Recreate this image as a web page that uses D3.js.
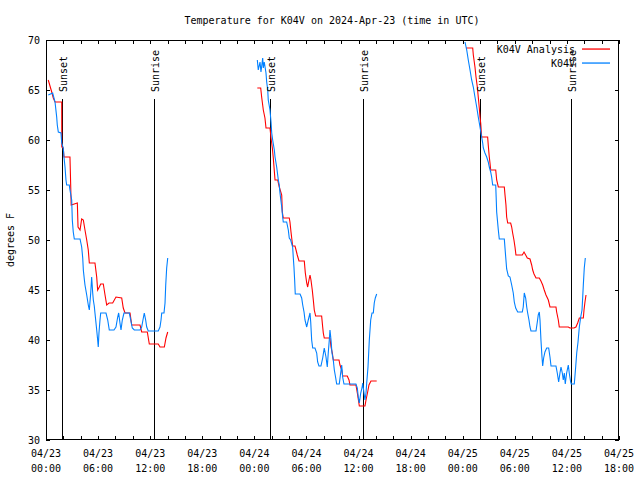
<!DOCTYPE html>
<html><head><meta charset="utf-8">
<script src="https://cdn.jsdelivr.net/npm/d3@7"></script>
<style>
body{margin:0;background:#fff;}
text{font-family:"DejaVu Sans Mono",monospace;font-size:10px;fill:#000;}
</style></head><body>
<svg id="c" width="640" height="480"></svg>
<script>
const titleText = "Temperature for K04V on 2024-Apr-23 (time in UTC)";
const yLabelText = "degrees F";
const seriesNames = ["K04V Analysis", "K04V"];
const seriesColors = ["#ff0000", "#0080ff"];
const yTicks = [30, 35, 40, 45, 50, 55, 60, 65, 70];
const sunsetHours = [1.81, 25.83, 49.95];
const sunriseHours = [12.47, 36.55, 60.50];

// [hours since 2024-04-23 00:00 UTC, temperature F]
const analysisDay1 = [[0.26,66.0],[0.66,64.8],[0.84,64.2],[1.04,63.8],[1.81,63.8],[1.82,59.3],[1.99,59.2],[2.07,58.3],[2.76,58.3],[2.80,57.0],[2.90,53.5],[3.61,53.7],[3.69,51.3],[3.92,51.0],[4.11,52.1],[4.30,52.0],[4.49,51.0],[4.69,50.0],[4.87,49.0],[4.99,47.7],[5.64,47.7],[5.84,46.3],[5.95,45.0],[6.14,45.3],[6.30,45.6],[6.60,45.6],[6.80,44.5],[6.99,43.5],[7.26,43.7],[7.68,43.7],[8.06,44.3],[8.72,44.2],[8.90,43.2],[9.10,42.7],[9.68,42.7],[9.87,41.5],[10.83,41.5],[11.02,40.8],[11.67,40.8],[11.90,39.6],[12.93,39.6],[13.13,39.3],[13.63,39.3],[13.82,40.2],[14.02,40.8]];
const observedDay1 = [[0.26,64.5],[0.77,64.7],[1.04,63.8],[1.23,62.3],[1.30,61.5],[1.42,60.8],[1.73,60.7],[1.81,59.7],[1.99,59.2],[2.07,58.3],[2.19,57.3],[2.30,56.0],[2.38,55.5],[2.68,55.5],[2.76,55.0],[2.96,54.0],[3.03,52.0],[3.14,50.8],[3.26,50.1],[3.92,50.1],[4.11,49.3],[4.23,48.2],[4.30,47.0],[4.41,46.1],[4.49,45.5],[4.69,44.5],[4.87,43.5],[4.99,43.0],[5.15,44.7],[5.26,46.3],[5.38,44.7],[5.45,44.0],[5.56,43.4],[5.64,42.7],[5.84,41.0],[5.95,40.0],[6.02,39.3],[6.10,40.7],[6.22,42.0],[6.30,42.7],[6.91,42.7],[7.11,42.0],[7.29,41.0],[7.83,41.0],[8.06,41.3],[8.26,42.3],[8.37,42.7],[8.52,41.7],[8.64,41.0],[8.79,42.0],[8.98,42.7],[9.59,42.7],[9.76,42.0],[9.94,41.2],[10.17,41.0],[10.83,41.0],[11.02,41.3],[11.21,42.2],[11.32,42.7],[11.48,42.0],[11.60,41.3],[11.78,40.9],[12.93,40.9],[13.13,41.3],[13.25,42.0],[13.33,42.7],[13.59,42.7],[13.71,43.7],[13.79,45.5],[13.90,47.2],[14.02,48.2]];
const analysisDay2 = [[24.34,65.2],[24.73,65.2],[24.84,64.3],[25.03,63.0],[25.22,62.2],[25.34,61.2],[25.80,61.2],[25.92,60.2],[26.07,59.2],[26.18,58.2],[26.38,56.0],[26.69,56.0],[26.76,55.7],[26.87,55.3],[27.15,54.5],[27.22,52.8],[27.33,52.2],[28.02,52.2],[28.10,51.8],[28.22,50.8],[28.30,50.2],[28.41,49.4],[28.68,49.4],[28.80,49.0],[28.94,48.5],[29.14,47.9],[29.75,47.9],[29.87,46.7],[30.03,45.7],[30.14,45.3],[30.29,46.0],[30.41,46.5],[30.52,46.0],[30.67,45.0],[30.79,44.0],[30.90,43.0],[31.06,42.4],[31.75,42.4],[31.87,41.3],[31.94,40.7],[32.05,40.2],[32.71,40.2],[32.83,39.3],[32.98,38.7],[33.09,38.0],[33.75,38.0],[33.86,37.5],[34.06,37.0],[34.17,36.4],[34.70,36.4],[34.90,36.0],[35.01,35.5],[35.70,35.5],[35.86,34.7],[36.02,33.8],[36.09,33.4],[36.74,33.4],[36.86,34.0],[37.05,34.8],[37.20,35.5],[37.43,35.9],[38.09,35.9]];
const observedDay2 = [[24.34,68.0],[24.45,67.0],[24.65,67.8],[24.76,66.8],[24.96,68.2],[25.03,67.2],[25.14,67.8],[25.34,66.7],[25.42,65.8],[25.54,65.0],[25.60,64.0],[25.80,63.0],[25.92,61.8],[26.00,60.7],[26.11,60.0],[26.30,59.0],[26.38,58.3],[26.57,57.3],[26.76,56.0],[26.87,55.5],[26.95,54.7],[27.15,53.3],[27.26,52.3],[27.33,51.8],[27.72,51.8],[27.91,51.0],[28.02,50.2],[28.18,50.0],[28.41,49.3],[28.48,48.3],[28.56,47.3],[28.64,46.0],[28.71,44.6],[29.26,44.6],[29.45,44.2],[29.57,43.5],[29.72,42.8],[29.83,42.0],[30.03,41.3],[30.21,42.0],[30.41,42.7],[30.49,41.8],[30.60,40.0],[30.72,39.2],[30.98,39.2],[31.18,38.7],[31.29,37.8],[31.44,37.4],[31.67,37.4],[31.87,38.2],[32.05,39.2],[32.25,38.3],[32.40,37.3],[32.51,38.7],[32.63,40.0],[32.71,41.0],[32.83,40.0],[32.94,38.7],[33.09,38.0],[33.21,37.0],[33.37,36.2],[33.48,35.6],[33.78,35.6],[33.94,36.7],[34.06,37.5],[34.17,36.3],[34.32,35.6],[35.70,35.6],[35.86,35.2],[35.97,34.3],[36.09,33.7],[36.25,34.7],[36.40,35.2],[36.48,35.7],[36.63,34.7],[36.74,34.0],[36.86,34.7],[36.94,35.7],[37.09,37.3],[37.24,40.0],[37.40,42.0],[37.55,42.7],[37.70,42.7],[37.81,43.7],[37.93,44.2],[38.09,44.6]];
const analysisDay3 = [[48.37,69.2],[49.15,69.2],[49.22,68.5],[49.41,67.3],[49.53,66.3],[49.68,65.3],[49.79,64.3],[49.91,63.2],[49.99,62.3],[50.07,61.7],[50.18,60.3],[50.87,60.3],[50.94,59.5],[51.06,58.3],[51.14,57.7],[51.22,57.0],[51.80,57.0],[51.91,56.0],[52.10,55.3],[52.79,55.3],[52.87,54.5],[52.98,53.5],[53.06,52.3],[53.18,51.7],[53.52,51.7],[53.64,51.3],[53.75,50.7],[53.90,50.0],[54.02,49.3],[54.13,48.5],[54.86,48.5],[55.06,48.8],[55.25,48.5],[55.44,48.2],[55.75,48.1],[55.94,47.5],[56.06,47.0],[56.21,46.6],[56.44,46.2],[56.82,46.2],[57.01,45.9],[57.21,45.5],[57.39,45.0],[57.59,44.5],[57.86,44.0],[58.05,43.3],[58.74,43.3],[58.82,42.8],[59.01,42.0],[59.12,41.3],[60.16,41.3],[60.35,41.2],[60.81,41.2],[61.04,41.3],[61.24,41.7],[61.43,42.2],[61.89,42.2],[61.97,43.0],[62.08,43.8],[62.20,44.5]];
const observedDay3 = [[48.26,69.8],[48.46,69.0],[48.64,68.0],[48.84,67.0],[49.03,66.0],[49.22,65.3],[49.41,64.3],[49.61,63.3],[49.79,62.3],[49.99,61.3],[50.18,60.3],[50.30,59.7],[50.37,59.2],[50.56,58.7],[50.76,58.3],[50.94,57.8],[51.06,57.3],[51.22,56.8],[51.33,56.3],[51.45,55.5],[51.80,55.5],[51.85,54.3],[51.91,52.8],[52.10,51.0],[52.21,50.1],[52.79,50.1],[52.95,48.3],[53.06,47.1],[53.25,46.4],[53.44,46.3],[53.64,45.5],[53.82,44.7],[53.94,43.8],[54.10,43.2],[54.33,42.8],[54.86,42.8],[54.97,43.3],[55.09,44.7],[55.25,44.2],[55.37,43.3],[55.48,42.7],[55.63,42.0],[55.75,41.3],[55.86,40.9],[56.44,40.9],[56.59,41.8],[56.70,42.5],[56.82,42.8],[56.90,42.0],[57.01,40.0],[57.13,38.3],[57.21,37.4],[57.32,38.2],[57.47,38.8],[57.67,39.2],[57.90,39.2],[58.05,38.3],[58.17,37.4],[58.74,37.4],[58.89,36.7],[59.05,35.8],[59.20,36.7],[59.32,37.3],[59.47,36.7],[59.58,36.0],[59.70,36.7],[59.81,35.6],[59.97,36.7],[60.16,37.5],[60.27,36.7],[60.43,35.8],[60.50,35.6],[60.85,35.6],[61.01,37.3],[61.13,38.7],[61.28,39.8],[61.43,41.3],[61.59,42.3],[61.74,43.0],[61.82,44.3],[61.89,45.5],[62.00,47.2],[62.12,48.2]];

const analysisSegments = [analysisDay1, analysisDay2, analysisDay3];
const observedSegments = [observedDay1, observedDay2, observedDay3];

const svg = d3.select("#c");
const L = 46, R = 619, T = 40, B = 440;
const t0 = Date.UTC(2024, 3, 23, 0);
const hr = h => new Date(t0 + h * 3600000);
const x = d3.scaleUtc().domain([hr(0), hr(66)]).range([L, R]);
const y = d3.scaleLinear().domain([30, 70]).range([B, T]);

svg.append("defs").append("clipPath").attr("id", "clip")
  .append("rect").attr("x", L).attr("y", T).attr("width", R - L).attr("height", B - T);

svg.append("text").attr("x", 332).attr("y", 24).attr("text-anchor", "middle").text(titleText);
svg.append("text").attr("transform", "translate(14,240) rotate(-90)").attr("text-anchor", "middle").text(yLabelText);

const g = svg.append("g").attr("shape-rendering", "crispEdges");
d3.range(0, 67, 2).forEach(h => {
  const xx = Math.round(x(hr(h))) + 0.5;
  g.append("line").attr("x1", xx).attr("x2", xx).attr("y1", B).attr("y2", B - 4).attr("stroke", "#000");
  g.append("line").attr("x1", xx).attr("x2", xx).attr("y1", T).attr("y2", T + 4).attr("stroke", "#000");
});
const fmtD = d3.utcFormat("%m/%d"), fmtT = d3.utcFormat("%H:%M");
d3.range(0, 67, 6).forEach(h => {
  const d = hr(h);
  svg.append("text").attr("x", x(d)).attr("y", 457).attr("text-anchor", "middle").text(fmtD(d));
  svg.append("text").attr("x", x(d)).attr("y", 472).attr("text-anchor", "middle").text(fmtT(d));
});
yTicks.forEach(v => {
  const yy = Math.round(y(v)) + 0.5;
  g.append("line").attr("x1", L).attr("x2", L + 4).attr("y1", yy).attr("y2", yy).attr("stroke", "#000");
  g.append("line").attr("x1", R).attr("x2", R - 4).attr("y1", yy).attr("y2", yy).attr("stroke", "#000");
  svg.append("text").attr("x", 40).attr("y", y(v) + 4).attr("text-anchor", "end").text(v);
});

const line = d3.line().x(d => x(hr(d[0]))).y(d => y(d[1]));
const dataG = svg.append("g").attr("clip-path", "url(#clip)");
analysisSegments.forEach(seg => dataG.append("path").attr("d", line(seg))
  .style("fill", "none").style("stroke", seriesColors[0]).style("stroke-width", "1.1px"));
observedSegments.forEach(seg => dataG.append("path").attr("d", line(seg))
  .style("fill", "none").style("stroke", seriesColors[1]).style("stroke-width", "1.1px"));

function sunLine(h, label) {
  const xx = Math.round(x(hr(h))) + 0.5;
  g.append("line").attr("x1", xx).attr("x2", xx).attr("y1", B).attr("y2", 99).attr("stroke", "#000");
  svg.append("text").attr("transform", `translate(${xx + 4},92) rotate(-90)`).attr("text-anchor", "start").text(label);
}
sunsetHours.forEach(h => sunLine(h, "Sunset"));
sunriseHours.forEach(h => sunLine(h, "Sunrise"));

// legend
const legend = svg.append("g");
seriesNames.forEach((n, i) => {
  const ly = 49 + i * 14;
  legend.append("text").attr("x", 575).attr("y", ly + 3.5).attr("text-anchor", "end").text(n);
  legend.append("rect").attr("x", 582).attr("y", ly - 0.6).attr("width", 28).attr("height", 1.3)
    .style("fill", seriesColors[i]).style("stroke", "none");
});

g.append("rect").attr("x", L + 0.5).attr("y", T + 0.5).attr("width", R - L - 1).attr("height", B - T - 1)
  .attr("fill", "none").attr("stroke", "#000");
</script></body></html>
